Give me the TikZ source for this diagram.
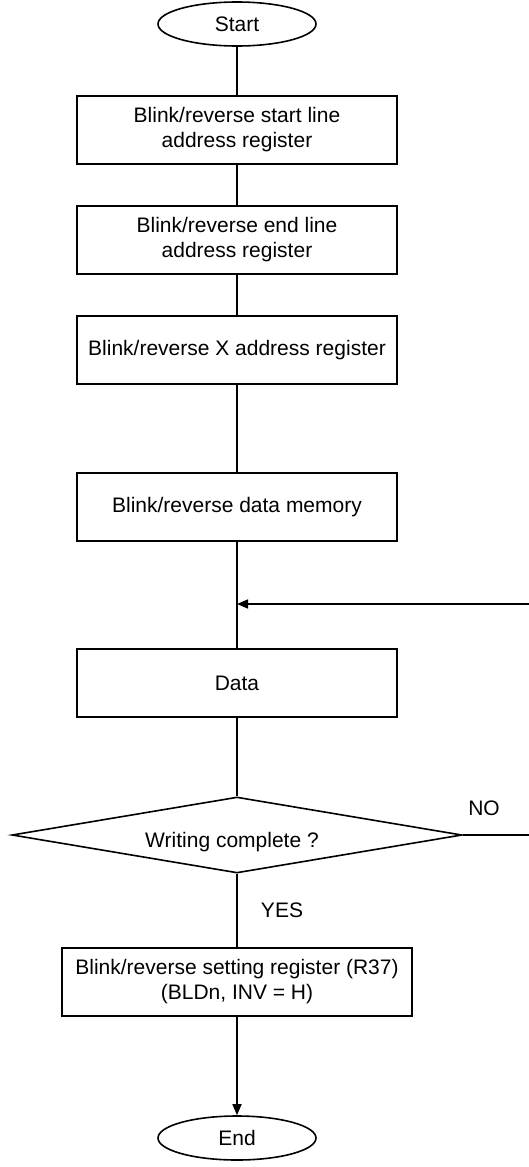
\documentclass[tikz,border=0pt]{standalone}
\usepackage{fontspec}
\setmainfont{Liberation Sans}
\usetikzlibrary{shapes.geometric,arrows.meta}
\begin{document}
\begin{tikzpicture}[x=1pt,y=-1pt,line width=1.6pt,
  txt/.style={font=\fontsize{21}{25}\selectfont},
  box/.style={draw,rectangle,minimum width=320pt,minimum height=68pt,inner sep=0pt,align=center,txt},
  term/.style={draw,ellipse,minimum width=158pt,minimum height=44pt,inner sep=0pt,txt},
  dec/.style={draw,diamond,aspect=5.9,minimum width=450pt,minimum height=76pt,inner sep=0pt,txt},
  lbl/.style={txt,inner sep=0pt},
  arr/.style={-{Triangle[length=11pt,width=9pt]}}]
\useasboundingbox (0,0) rectangle (528,1167);
\node[term] (start) at (237,24) {Start};
\node[box] (b1) at (237,130) {Blink/reverse start line\\address register};
\node[box] (b2) at (237,240) {Blink/reverse end line\\address register};
\node[box] (b3) at (237,350) {Blink/reverse X address register};
\node[box] (b4) at (237,507) {Blink/reverse data memory};
\coordinate (j) at (237,604);
\node[box] (b5) at (237,683) {Data};
\node[dec] (d) at (237,835) {};
\node[lbl] (wc) at (232,842) {Writing complete ?};
\node[box,minimum width=350pt] (b6) at (237,982) {Blink/reverse setting register (R37)\\(BLDn, INV = H)};
\node[term] (end) at (237,1138) {End};
\node[lbl] (no) at (484,808) {NO};
\node[lbl] (yes) at (282,910) {YES};
\coordinate (r1) at (545,835);
\coordinate (r2) at (545,604);
\draw (start) -- (b1);
\draw (b1) -- (b2);
\draw (b2) -- (b3);
\draw (b3) -- (b4);
\draw (b4) -- (b5);
\draw[arr] (r2) -- (j);
\draw (b5) -- (d);
\draw (d.east) -- (r1) -- (r2);
\draw (d) -- (b6);
\draw[arr] (b6) -- (end);
\end{tikzpicture}
\end{document}
